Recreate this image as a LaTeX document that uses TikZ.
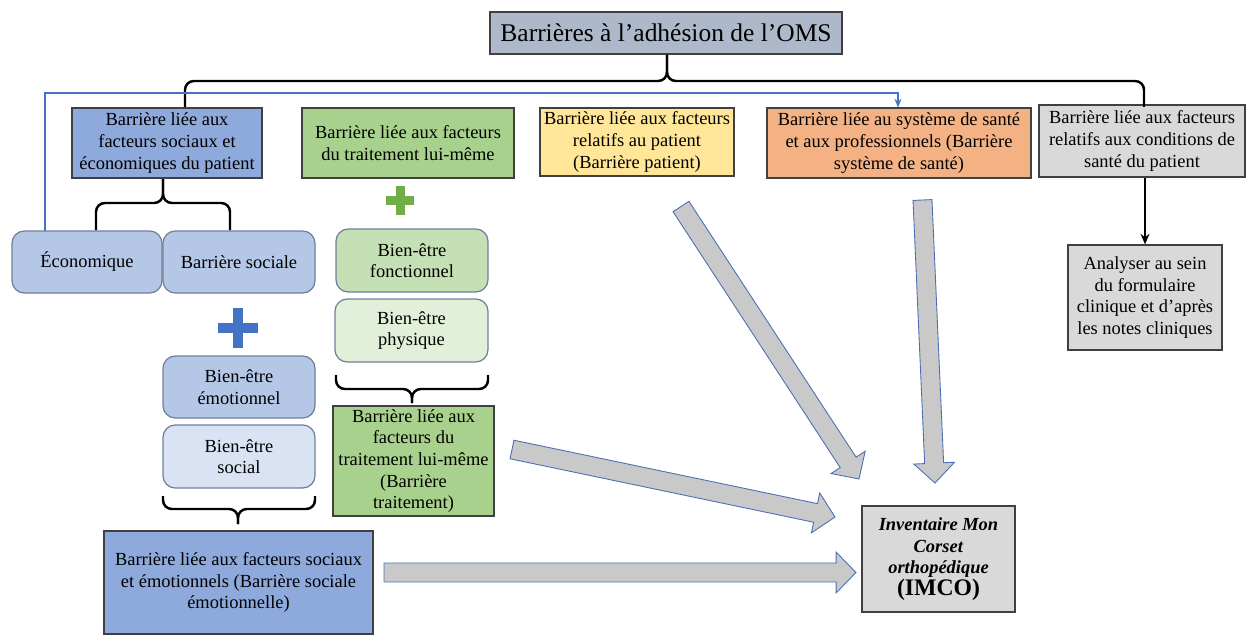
\documentclass[tikz,border=0pt]{standalone}
\usepackage{fontspec}
\setmainfont{Liberation Serif}
\usetikzlibrary{calc,arrows.meta}
\definecolor{titlefill}{HTML}{ADB9CA}
\definecolor{bluebox}{HTML}{8EA9DB}
\definecolor{greenbox}{HTML}{A9D18E}
\definecolor{yellowbox}{HTML}{FFE699}
\definecolor{orangebox}{HTML}{F4B183}
\definecolor{graybox}{HTML}{D9D9D9}
\definecolor{lblue}{HTML}{B4C7E7}
\definecolor{llblue}{HTML}{DAE3F3}
\definecolor{lgreen}{HTML}{C5E0B4}
\definecolor{llgreen}{HTML}{E2F0D9}
\definecolor{boxborder}{HTML}{404040}
\definecolor{rborder}{HTML}{6F7F99}
\definecolor{arrowgray}{HTML}{C9C9C9}
\definecolor{arrowblue}{HTML}{4A6FB5}
\definecolor{plusblue}{HTML}{4472C4}
\definecolor{plusgreen}{HTML}{70AD47}
\tikzset{
  box/.style={draw=boxborder, line width=0.7pt, inner sep=0pt, align=center,
    font=\fontsize{10.5}{12.3}\selectfont},
  rbox/.style={box, rounded corners=7pt, draw=rborder},
  area/.style n args={4}{at={({(#1+#3)/2},{(#2+#4)/2})},
    minimum width={(#3-#1)*0.02cm}, minimum height={(#4-#2)*0.02cm}},
  brace/.style={draw=black, line width=1.4pt, rounded corners=5pt},
  fat/.style={fill=arrowgray, draw=arrowblue, line width=0.5pt, line join=miter},
  blueline/.style={draw=plusblue, line width=1.1pt},
}
\newcommand{\fatarrow}[2]{%
  \coordinate (fah) at ($(#2)!11.3pt!(#1)$);
  \draw[fat] ($(#1)!5.4pt!90:(#2)$) -- ($(fah)!5.4pt!90:(#2)$) -- ($(fah)!11.6pt!90:(#2)$) -- (#2)
    -- ($(fah)!11.6pt!-90:(#2)$) -- ($(fah)!5.4pt!-90:(#2)$) -- ($(#1)!5.4pt!-90:(#2)$) -- cycle;
}
\newcommand{\hbr}[6]{%
  \draw[brace] (#1,#4) -- (#1,#5) -- (#3,#5) -- (#3,#6);
  \draw[brace] (#2,#4) -- (#2,#5) -- (#3,#5) -- (#3,#6);
}
\begin{document}
\begin{tikzpicture}[x=0.02cm, y=-0.02cm]
\useasboundingbox (0,0) rectangle (1247,635);

% title
\node[box, fill=titlefill, area={490}{12}{842}{54}, font=\fontsize{14.5}{16}\selectfont] (title) {Barrières à l’adhésion de l’OMS};

% top row
\node[box, fill=bluebox, area={72}{108}{262}{178}] (b1) {Barrière liée aux\\facteurs sociaux et\\économiques du patient};
\node[box, fill=greenbox, area={302}{108}{514}{178}] (b2) {Barrière liée aux facteurs\\du traitement lui-même};
\node[box, fill=yellowbox, area={540}{108}{734}{176}] (b3) {Barrière liée aux facteurs\\relatifs au patient\\(Barrière patient)};
\node[box, fill=orangebox, area={767}{108}{1031}{178}] (b4) {Barrière liée au système de santé\\et aux professionnels (Barrière\\système de santé)};
\node[box, fill=graybox, area={1039}{105}{1245}{177}] (b5) {Barrière liée aux facteurs\\relatifs aux conditions de\\santé du patient};

% top brace
\hbr{185}{1144}{667}{107}{81}{55}

% blue connector
\coordinate (bt) at (898,107.5);
\draw[blueline, -{Stealth[length=5pt,width=4pt]}] (51,232) -- (45,232) -- (45,93) -| (bt);

% social / economic
\node[rbox, fill=lblue, area={12}{231}{162}{293}] (eco) {Économique};
\node[rbox, fill=lblue, area={163}{231}{315}{293}] (soc) {Barrière sociale};
\hbr{96}{230}{163}{230}{203}{179}

% blue plus
\fill[plusblue] (218,323) rectangle (258,333);
\fill[plusblue] (233,308) rectangle (243,348);

\node[rbox, fill=lblue, area={163}{356}{315}{418}] (emo) {Bien-être\\émotionnel};
\node[rbox, fill=llblue, area={163}{425}{315}{488}] (bsoc) {Bien-être\\social};
\hbr{163}{315}{238}{496}{509}{524}
\node[box, fill=bluebox, area={104}{531}{373}{634}] (big) {Barrière liée aux facteurs sociaux\\et émotionnels (Barrière sociale\\émotionnelle)};

% green plus
\fill[plusgreen] (386,196) rectangle (414,205);
\fill[plusgreen] (395.5,186) rectangle (404.5,215);

\node[rbox, fill=lgreen, area={336}{229}{488}{292}] (fon) {Bien-être\\fonctionnel};
\node[rbox, fill=llgreen, area={335}{299}{488}{362}] (phy) {Bien-être\\physique};
\hbr{336}{488}{412}{375}{389}{403}
\node[box, fill=greenbox, area={333}{406}{494}{516}] (trt) {Barrière liée aux\\facteurs du\\traitement lui-même\\(Barrière\\traitement)};

% right side
\node[box, fill=graybox, area={1068}{245}{1222}{350}] (an) {Analyser au sein\\du formulaire\\clinique et d’après\\les notes cliniques};
\draw[line width=1.2pt, -{Stealth[length=6pt,width=5pt]}] (an.north |- b5.south) -- (an.north);

\node[box, fill=graybox, area={862}{506}{1015}{612}] (imco) {\textbf{\textit{Inventaire Mon}}\\\textbf{\textit{Corset}}\\\textbf{\textit{orthopédique}}\\{\fontsize{13.5}{14}\selectfont\textbf{(IMCO)}}};

% fat arrows
\coordinate (t1) at (384,572.5);  \coordinate (p1) at (856,572.5);
\coordinate (t2) at (512,449.5);  \coordinate (p2) at (835,517);
\coordinate (t3) at (681,206.5);  \coordinate (p3) at (859,479);
\coordinate (t4) at (922.5,200);  \coordinate (p4) at (935,483);
\fatarrow{t1}{p1}
\fatarrow{t2}{p2}
\fatarrow{t3}{p3}
\fatarrow{t4}{p4}
\end{tikzpicture}
\end{document}
